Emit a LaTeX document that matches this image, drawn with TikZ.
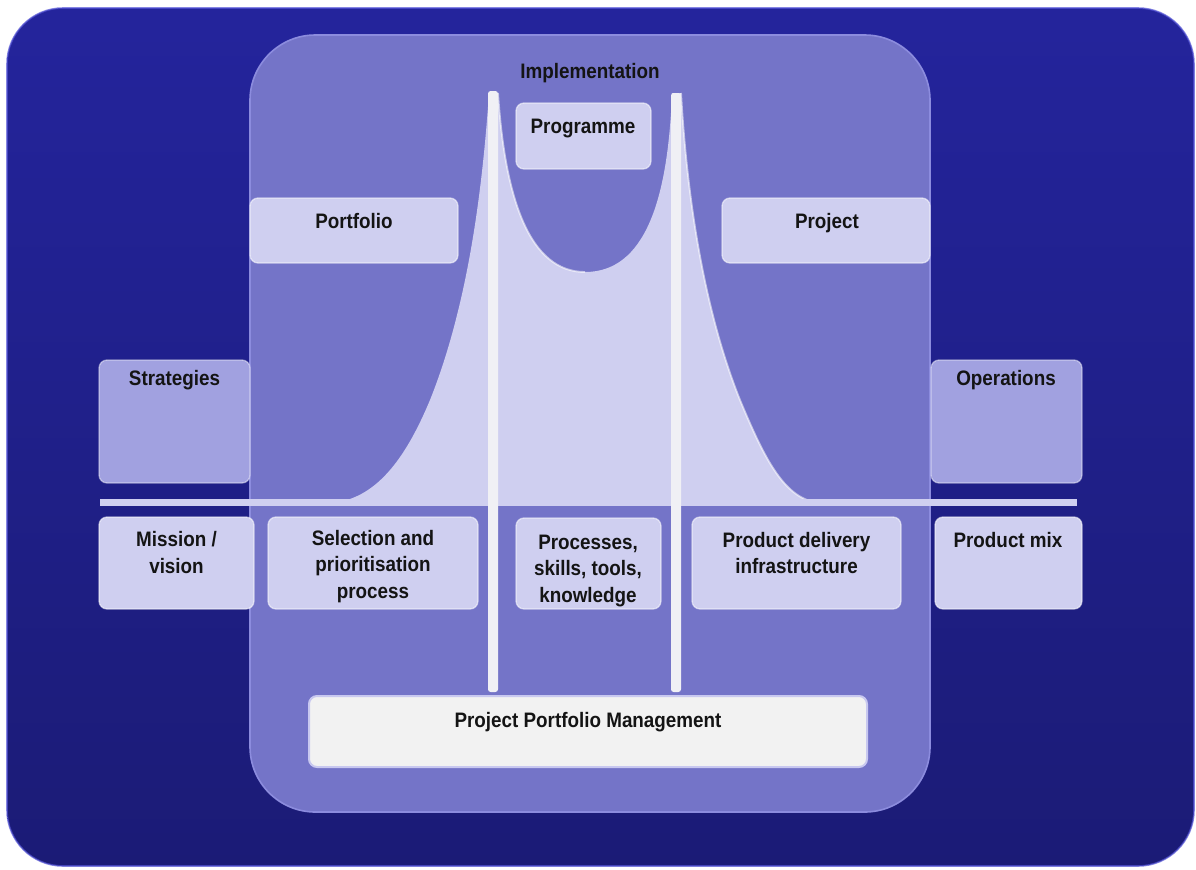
\documentclass[tikz,border=0pt]{standalone}
\usepackage{fontspec}
\setmainfont{Liberation Sans}[FakeStretch=0.9]
\definecolor{bgtop}{RGB}{36,36,156}
\definecolor{bgbot}{RGB}{27,27,118}
\definecolor{bgrim}{RGB}{84,84,214}
\definecolor{innerc}{RGB}{116,116,200}
\definecolor{innerrim}{RGB}{140,140,222}
\definecolor{pale}{RGB}{207,207,240}
\definecolor{midc}{RGB}{161,161,224}
\definecolor{pillarc}{RGB}{240,240,245}
\definecolor{ppmc}{RGB}{242,242,242}
\definecolor{ppmrim}{RGB}{200,200,240}
\begin{document}
\begin{tikzpicture}[x=0.75pt,y=-0.75pt,
  txt/.style={font=\bfseries\fontsize{15.7}{19.9}\selectfont, text=black!92, inner sep=0pt, align=center, anchor=north},
  palebox/.style={fill=pale, draw=white, draw opacity=0.55, line width=1pt, rounded corners=6pt},
  midbox/.style={fill=midc, draw=white, draw opacity=0.45, line width=1pt, rounded corners=6pt},
  ppmbox/.style={fill=ppmc, draw=ppmrim, line width=1.5pt, rounded corners=6pt},
  pillar/.style={fill=pillarc},
  glint/.style={draw=white, line width=1.4pt, draw opacity=0.55}]
\path[use as bounding box] (0,0) rectangle (1196,869);
\fill[white] (0,0) rectangle (1196,869);
% outer background
\shade[top color=bgtop, bottom color=bgbot, rounded corners=42pt] (7,8) rectangle (1194,866);
\draw[bgrim, line width=1.2pt, draw opacity=0.7, rounded corners=42pt] (7,8) rectangle (1194,866);
% inner panel
\fill[innerc, rounded corners=49pt] (250,35) rectangle (930,812);
\draw[innerrim, line width=1.2pt, rounded corners=49pt] (250,35) rectangle (930,812);
% bell curve shape
\fill[pale] (330,503) .. controls (375,500) and (405,460) .. (430,400)
  .. controls (470,300) and (483,180) .. (489,93) -- (498,93)
  .. controls (505,200) and (530,272) .. (585,272)
  .. controls (645,272) and (668,200) .. (672,93) -- (681,93)
  .. controls (686,180) and (700,300) .. (740,400)
  .. controls (765,460) and (785,500) .. (820,503) -- cycle;
\path[glint] (498,93) .. controls (505,200) and (530,272) .. (585,272);
\path[glint] (681,93) .. controls (686,180) and (700,300) .. (740,400)
  .. controls (765,460) and (785,500) .. (820,503);
% horizontal line
\fill[pale] (100,499) rectangle (1077,506);
% pillars
\fill[pillar, rounded corners=2pt] (488,91) rectangle (498,692);
\fill[pillar, rounded corners=2pt] (671,93) rectangle (681,692);
% boxes
\path[palebox] (250,198) rectangle (458,263);
\path[palebox] (722,198) rectangle (930,263);
\path[palebox] (516,103) rectangle (651,169);
\path[midbox] (99,360) rectangle (250,483);
\path[midbox] (931,360) rectangle (1082,483);
\path[palebox] (99,517) rectangle (254,609);
\path[palebox] (268,517) rectangle (478,609);
\path[palebox] (516,518) rectangle (661,609);
\path[palebox] (692,517) rectangle (901,609);
\path[palebox] (935,517) rectangle (1082,609);
\path[ppmbox] (309,696) rectangle (867,767);
% texts
\node[txt] (impl) at (590,63) {Implementation};
\node[txt] (prog) at (583,118.5) {Programme};
\node[txt] (port) at (354,213) {Portfolio};
\node[txt] (proj) at (827,213) {Project};
\node[txt] (strat) at (174.5,370) {Strategies};
\node[txt] (oper) at (1006,370) {Operations};
\node[txt] (miss) at (176.5,531.5) {Mission /\\vision};
\node[txt] (sel) at (373,530) {Selection and\\prioritisation\\process};
\node[txt] (procs) at (588,534.5) {Processes,\\skills, tools,\\knowledge};
\node[txt] (deliv) at (796.5,532) {Product delivery\\infrastructure};
\node[txt] (mix) at (1008,532) {Product mix};
\node[txt] (ppm) at (588,712) {Project Portfolio Management};
\end{tikzpicture}
\end{document}
